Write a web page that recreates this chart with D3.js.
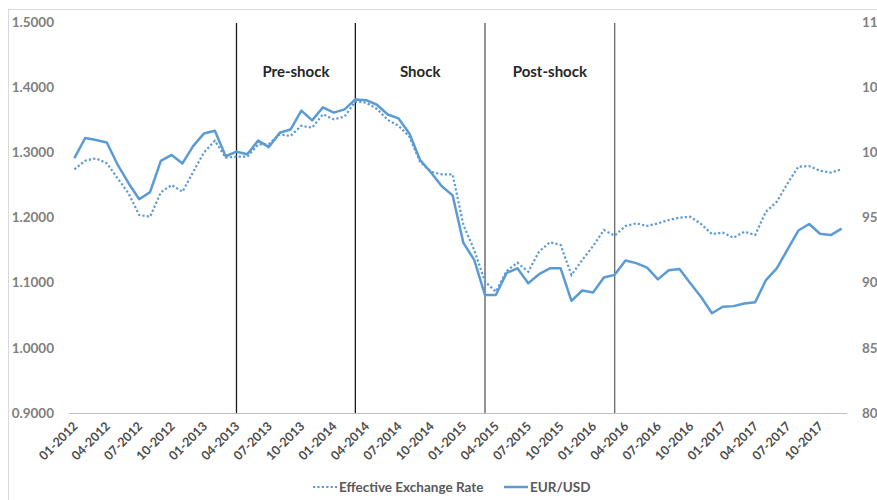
<!DOCTYPE html>
<html><head><meta charset="utf-8">
<script src="https://cdn.jsdelivr.net/npm/d3@7"></script>
<style>
html,body{margin:0;padding:0;background:#fff;}
svg text{font-family:Lato,"Liberation Sans",sans-serif;}
</style></head>
<body><svg id="chart" width="877" height="500"></svg>
<script>
const categories = [
"01-2012","02-2012","03-2012","04-2012","05-2012","06-2012","07-2012","08-2012","09-2012","10-2012","11-2012","12-2012",
"01-2013","02-2013","03-2013","04-2013","05-2013","06-2013","07-2013","08-2013","09-2013","10-2013","11-2013","12-2013",
"01-2014","02-2014","03-2014","04-2014","05-2014","06-2014","07-2014","08-2014","09-2014","10-2014","11-2014","12-2014",
"01-2015","02-2015","03-2015","04-2015","05-2015","06-2015","07-2015","08-2015","09-2015","10-2015","11-2015","12-2015",
"01-2016","02-2016","03-2016","04-2016","05-2016","06-2016","07-2016","08-2016","09-2016","10-2016","11-2016","12-2016",
"01-2017","02-2017","03-2017","04-2017","05-2017","06-2017","07-2017","08-2017","09-2017","10-2017","11-2017","12-2017"];

const eurUsd = [
1.291,1.322,1.319,1.315,1.281,1.253,1.228,1.239,1.287,1.296,1.283,1.310,
1.329,1.333,1.294,1.301,1.297,1.318,1.308,1.330,1.335,1.364,1.349,1.369,
1.361,1.366,1.381,1.380,1.373,1.358,1.352,1.329,1.288,1.269,1.248,1.234,
1.161,1.135,1.081,1.081,1.115,1.122,1.099,1.113,1.122,1.122,1.072,1.088,
1.085,1.108,1.112,1.134,1.130,1.123,1.105,1.119,1.121,1.099,1.078,1.053,
1.063,1.064,1.068,1.070,1.104,1.122,1.151,1.180,1.190,1.175,1.173,1.183];

const effectiveRate = [
98.70,99.36,99.54,99.16,98.01,96.86,95.19,95.06,96.93,97.49,96.98,98.51,
100.00,100.89,99.59,99.67,99.67,100.60,100.65,101.38,101.25,102.04,101.89,102.92,
102.53,102.74,103.89,103.81,103.33,102.48,102.04,101.20,99.26,98.51,98.31,98.31,
94.43,92.51,90.08,89.31,90.90,91.53,90.84,92.38,93.10,92.89,90.59,91.74,
92.81,94.04,93.61,94.35,94.55,94.35,94.55,94.81,94.99,95.06,94.50,93.73,
93.84,93.45,93.91,93.66,95.45,96.21,97.62,98.90,98.95,98.59,98.44,98.70];

const leftTicks = [0.9,1.0,1.1,1.2,1.3,1.4,1.5];
const rightTicks = [80,85,90,95,100,105,110];
const tickLabels = categories.filter((d,i)=> i % 3 === 0);

const periodLines = ["04-2013","03-2014","03-2015","03-2016"];
const periodLineColors = ["#1a1a1a","#1a1a1a","#595959","#6a6a6a"];
const periodNames = ["Pre-shock","Shock","Post-shock"];

const seriesNames = ["Effective Exchange Rate","EUR/USD"];
const lineColor = "#5b9bd5";

const svg = d3.select("#chart");
const plotLeft = 69, plotRight = 847, plotTop = 22, plotBottom = 413;

svg.append("rect").attr("x",8.5).attr("y",9.5).attr("width",1000).attr("height",1000)
  .attr("fill","none").attr("stroke","#d9d9d9").attr("stroke-width",1);

const x = d3.scaleBand().domain(categories).range([plotLeft,plotRight]).padding(0);
const cx = c => x(c) + x.bandwidth()/2;
const yL = d3.scaleLinear().domain([0.9,1.5]).range([plotBottom,plotTop]);
const yR = d3.scaleLinear().domain([80,110]).range([plotBottom,plotTop]);

// baseline
svg.append("line").attr("x1",plotLeft).attr("x2",plotRight).attr("y1",yL(0.9)+0.5).attr("y2",yL(0.9)+0.5)
  .attr("stroke","#bfbfbf").attr("stroke-width",1.2);

// left axis
const gL = svg.append("g").attr("transform",`translate(54,0)`)
  .call(d3.axisLeft(yL).tickValues(leftTicks).tickFormat(d3.format(".4f")).tickSize(0).tickPadding(0));
gL.select(".domain").remove();
gL.selectAll("text").attr("font-size",13.5).attr("font-weight","bold").attr("fill","#808080")
  .attr("font-family","Lato,'Liberation Sans',sans-serif");

// right axis
const gR = svg.append("g").attr("transform",`translate(862,0)`)
  .call(d3.axisRight(yR).tickValues(rightTicks).tickFormat(d3.format("d")).tickSize(0).tickPadding(0));
gR.select(".domain").remove();
gR.selectAll("text").attr("font-size",13.5).attr("font-weight","bold").attr("fill","#808080")
  .attr("font-family","Lato,'Liberation Sans',sans-serif");

// x axis labels
const gX = svg.append("g").attr("transform",`translate(0,${plotBottom})`)
  .call(d3.axisBottom(x).tickValues(tickLabels).tickSize(0).tickPadding(0));
gX.select(".domain").remove();
gX.selectAll("text")
  .attr("font-size",12.5).attr("font-weight","bold").attr("fill","#4d4d4d")
  .attr("font-family","Lato,'Liberation Sans',sans-serif")
  .attr("text-anchor","end").attr("dy",null).attr("y",0)
  .attr("transform","translate(4,14) rotate(-45)");

// period lines
svg.selectAll(".pline").data(periodLines).enter().append("line")
  .attr("x1",d=>cx(d)).attr("x2",d=>cx(d)).attr("y1",plotTop+1).attr("y2",plotBottom)
  .attr("stroke",(d,i)=>periodLineColors[i]).attr("stroke-width",1.3);

// period names
svg.selectAll(".pname").data(periodNames).enter().append("text")
  .attr("x",(d,i)=> (cx(periodLines[i])+cx(periodLines[i+1]))/2)
  .attr("y",77).attr("text-anchor","middle")
  .attr("font-size",15).attr("font-weight","bold").attr("fill","#262626").text(d=>d);

// lines
const lineL = d3.line().x((d,i)=>cx(categories[i])).y(d=>yL(d));
const lineR = d3.line().x((d,i)=>cx(categories[i])).y(d=>yR(d));

svg.append("path").datum(effectiveRate).attr("d",lineR).attr("fill","none")
  .attr("stroke",lineColor).attr("stroke-width",2.2).attr("stroke-dasharray","2.2 2.2");
svg.append("path").datum(eurUsd).attr("d",lineL).attr("fill","none")
  .attr("stroke",lineColor).attr("stroke-width",2.5).attr("stroke-linejoin","round");

// legend
const leg = svg.append("g");
leg.append("line").attr("x1",313).attr("x2",337).attr("y1",487).attr("y2",487)
  .attr("stroke",lineColor).attr("stroke-width",2.2).attr("stroke-dasharray","2.2 2.2");
leg.append("text").attr("x",339).attr("y",492).attr("font-size",13.5).attr("font-weight","bold")
  .attr("fill","#595959").text(seriesNames[0]);
leg.append("line").attr("x1",504).attr("x2",528).attr("y1",487).attr("y2",487)
  .attr("stroke",lineColor).attr("stroke-width",2.5);
leg.append("text").attr("x",530).attr("y",492).attr("font-size",13.5).attr("font-weight","bold")
  .attr("fill","#595959").text(seriesNames[1]);
</script></body></html>
